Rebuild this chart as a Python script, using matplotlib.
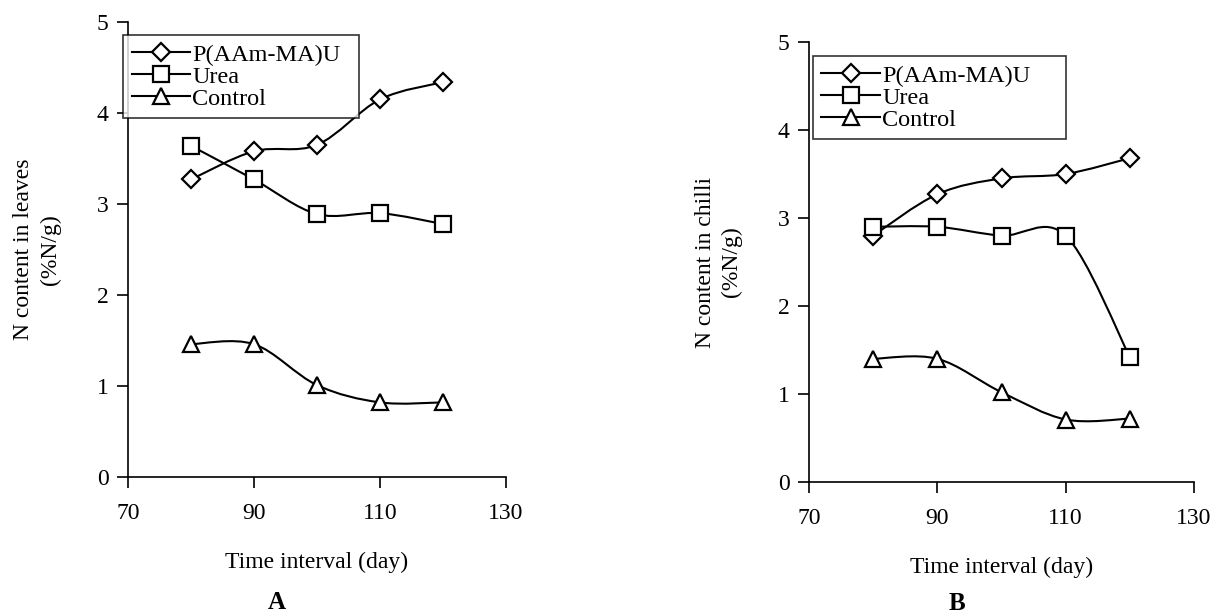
import matplotlib
matplotlib.use("Agg")
import matplotlib.pyplot as plt
from matplotlib.path import Path
from matplotlib.patches import PathPatch
from matplotlib.lines import Line2D

plt.rcParams['font.family'] = ['Liberation Serif', 'DejaVu Serif']

days = [80, 90, 100, 110, 120]
series_names = ['P(AAm-MA)U', 'Urea', 'Control']

# panel A: N content in leaves
leaves_p = [3.27, 3.58, 3.65, 4.15, 4.34]
leaves_urea = [3.64, 3.27, 2.89, 2.90, 2.78]
leaves_control = [1.46, 1.46, 1.01, 0.82, 0.82]

# panel B: N content in chilli
chilli_p = [2.80, 3.27, 3.45, 3.50, 3.68]
chilli_urea = [2.90, 2.90, 2.80, 2.80, 1.42]
chilli_control = [1.40, 1.40, 1.02, 0.71, 0.72]

markers = ['D', 's', '^']
msizes = [9, 11, 12]


def smooth_path(x, y):
    # excel-like smoothed line: cubic bezier between points
    n = len(x)
    verts = [(x[0], y[0])]
    codes = [Path.MOVETO]
    for i in range(n - 1):
        xp, yp = (x[i - 1], y[i - 1]) if i > 0 else (x[i], y[i])
        xn, yn = (x[i + 2], y[i + 2]) if i + 2 < n else (x[i + 1], y[i + 1])
        c1 = (x[i] + (x[i + 1] - xp) / 6, y[i] + (y[i + 1] - yp) / 6)
        c2 = (x[i + 1] - (xn - x[i]) / 6, y[i + 1] - (yn - y[i]) / 6)
        verts += [c1, c2, (x[i + 1], y[i + 1])]
        codes += [Path.CURVE4] * 3
    return Path(verts, codes)


def draw_panel(ax, data, ylabel, legend_box):
    handles = []
    for vals, m, ms, name in zip(data, markers, msizes, series_names):
        ax.add_patch(PathPatch(smooth_path(days, vals), fill=False, lw=1.5,
                               edgecolor='black', zorder=2))
        ax.plot(days, vals, ls='none', marker=m, ms=ms, mfc='white',
                mec='black', mew=1.6, zorder=3)
        handles.append(Line2D([], [], color='black', lw=1.5, marker=m, ms=ms,
                              mfc='white', mec='black', mew=1.6, label=name))
    ax.set_xlim(70, 130)
    ax.set_ylim(0, 5)
    ax.set_xticks([70, 90, 110, 130])
    ax.set_yticks([0, 1, 2, 3, 4, 5])
    for s in ['top', 'right']:
        ax.spines[s].set_visible(False)
    for s in ['left', 'bottom']:
        ax.spines[s].set_linewidth(1.2)
    ax.tick_params(direction='out', length=8, width=1.2, labelsize=17, pad=6)
    ax.tick_params(axis='x', pad=11)
    ax.set_xlabel('Time interval (day)', fontsize=17, labelpad=20)
    ax.set_ylabel(ylabel, fontsize=17, labelpad=26, linespacing=1.3)
    leg = ax.legend(handles=handles, loc='upper left', bbox_to_anchor=legend_box,
                    mode='expand', fontsize=17.5, frameon=True, fancybox=False,
                    edgecolor='black', handlelength=2.4, handletextpad=0.1,
                    labelspacing=0.0, borderpad=0.35, borderaxespad=0)
    leg.get_frame().set_linewidth(1.2)
    leg.set_zorder(5)


fig = plt.figure(figsize=(12.21, 6.14), dpi=100)
ax1 = fig.add_axes([0.1048, 0.2231, 0.3096, 0.7410])
ax2 = fig.add_axes([0.6626, 0.2150, 0.3153, 0.7166])

draw_panel(ax1, [leaves_p, leaves_urea, leaves_control],
           'N content in leaves\n(%N/g)', (-0.013, 0.771, 0.624, 0.2))
draw_panel(ax2, [chilli_p, chilli_urea, chilli_control],
           'N content in chilli\n(%N/g)', (0.010, 0.768, 0.657, 0.2))

fig.text(0.2269, 0.038, 'A', ha='center', va='top', fontsize=18, fontweight='bold')
fig.text(0.7838, 0.036, 'B', ha='center', va='top', fontsize=18, fontweight='bold')

fig.savefig('out.png', dpi=100)
